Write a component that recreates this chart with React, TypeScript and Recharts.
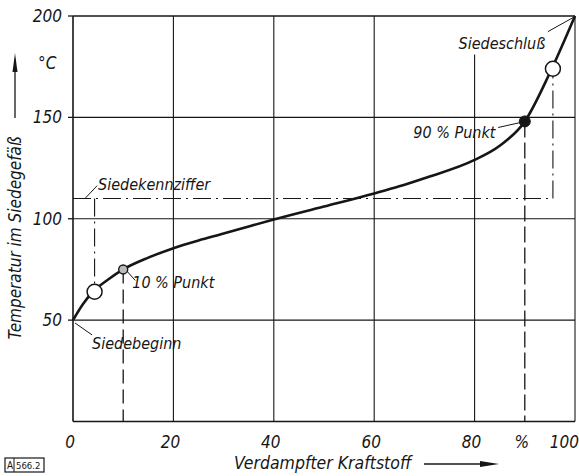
import React from 'react';
import {
  ComposedChart,
  Line,
  XAxis,
  YAxis,
  ReferenceLine,
  ReferenceDot
} from 'recharts';

// Siedekurve eines Vergaserkraftstoffs
const verdampft = [0, 2, 4, 7, 10, 15, 20, 25, 30, 35, 40, 50, 60, 65, 70, 80, 85, 90, 95, 100];
const temperatur = [50, 58, 64, 70, 75, 80.8, 85.5, 89.3, 92.7, 96.2, 99.6, 106, 112.5, 116, 120, 129, 136, 148, 172, 200];

const xTicks = [0, 20, 40, 60, 80, 90, 100];
const xTickLabels = ['0', '20', '40', '60', '80', '%', '100'];
const yTicks = [50, 100, 150, 200];
const gridX = [0, 20, 40, 60, 80, 100];
// oberes Ende der senkrechten Gitterlinien (bei 80 durch "Siedeschluß" unterbrochen)
const gridXTop = [200, 200, 200, 200, 181, 200];
const gridY = [0, 50, 100, 150, 200];

const siedekennziffer = 110;
const beginnKreis = { x: 4.3, y: 64 };
const punkt10 = { x: 10, y: 75 };
const punkt90 = { x: 90, y: 148 };
const schlussKreis = { x: 95.6, y: 174 };

const beschriftungen = [
  { text: 'Siedeschluß', x: 76.8, y: 183.5 },
  { text: '90 % Punkt', x: 67.8, y: 140 },
  { text: 'Siedekennziffer', x: 5, y: 114.3 },
  { text: '10 % Punkt', x: 11.8, y: 66 },
  { text: 'Siedebeginn', x: 3.8, y: 35.8 }
];

const hinweislinien = [
  [94.6, 192.3, 99.6, 199.2],
  [84.7, 145, 89, 147.4],
  [2.4, 110, 4.8, 116.3],
  [10.8, 74, 12.4, 69.6],
  [0.4, 48.6, 3.8, 42.7]
];

const data = verdampft.map((x, i) => ({ x, t: temperatur[i] }));

const FONT = '"DejaVu Sans Condensed", "DejaVu Sans", sans-serif';
const INK = '#161616';

const XTick = (props: any) => {
  const { x, y, payload, index } = props;
  const last = payload.value === 100;
  return (
    <text
      x={last ? x + 4 : x - 3}
      y={y}
      dy="0.71em"
      textAnchor={last ? 'end' : 'middle'}
      fontFamily={FONT}
      fontStyle="italic"
      fontSize={17}
      fill={INK}
    >
      {xTickLabels[index] ?? payload.value}
    </text>
  );
};

const Beschriftung = (text: string) => (p: any) => (
  <text
    x={p.cx}
    y={p.cy}
    fontFamily={FONT}
    fontStyle="italic"
    fontSize={16}
    fill={INK}
  >
    {text}
  </text>
);

export default function App() {
  return (
    <div style={{ position: 'absolute', left: 0, top: 0, width: 579, height: 476, background: '#fff' }}>
      <ComposedChart
        width={579}
        height={476}
        data={data}
        margin={{ top: 16, right: 4, left: 0, bottom: 0 }}
      >
        <XAxis
          dataKey="x"
          type="number"
          domain={[0, 100]}
          ticks={xTicks}
          interval={0}
          tick={<XTick />}
          tickLine={false}
          axisLine={false}
          tickSize={0}
          tickMargin={14}
          height={54.5}
        />
        <YAxis
          type="number"
          domain={[0, 200]}
          ticks={yTicks}
          interval={0}
          width={73}
          tickSize={5}
          tickMargin={6}
          axisLine={false}
          tickLine={{ stroke: INK, strokeWidth: 1.3 }}
          tick={{ fontFamily: FONT, fontStyle: 'italic', fontSize: 17, fill: INK }}
        />

        {gridX.map((g, i) => (
          <ReferenceLine
            key={'gx' + g}
            segment={[{ x: g, y: 0 }, { x: g, y: gridXTop[i] }]}
            stroke={INK}
            strokeWidth={g === 0 ? 1.6 : 1.1}
          />
        ))}
        {gridY.map((g) => (
          <ReferenceLine key={'gy' + g} y={g} stroke={INK} strokeWidth={g === 0 || g === 200 ? 1.6 : 1.2} />
        ))}

        {/* Siedekennziffer, strichpunktiert */}
        <ReferenceLine
          segment={[{ x: 0, y: siedekennziffer }, { x: schlussKreis.x, y: siedekennziffer }]}
          stroke={INK}
          strokeWidth={1.1}
          strokeDasharray="18 5 2 5"
        />
        <ReferenceLine
          segment={[{ x: schlussKreis.x, y: siedekennziffer }, { x: schlussKreis.x, y: schlussKreis.y }]}
          stroke={INK}
          strokeWidth={1.1}
          strokeDasharray="18 5 2 5"
        />
        <ReferenceLine
          segment={[{ x: beginnKreis.x, y: siedekennziffer }, { x: beginnKreis.x, y: beginnKreis.y }]}
          stroke={INK}
          strokeWidth={1.1}
          strokeDasharray="18 5 2 5"
        />
        <ReferenceLine
          segment={[{ x: punkt10.x, y: punkt10.y }, { x: punkt10.x, y: 0 }]}
          stroke={INK}
          strokeWidth={1.3}
          strokeDasharray="14 6"
        />
        <ReferenceLine
          segment={[{ x: punkt90.x, y: punkt90.y }, { x: punkt90.x, y: 0 }]}
          stroke={INK}
          strokeWidth={1.3}
          strokeDasharray="16 5"
        />

        {hinweislinien.map((h, i) => (
          <ReferenceLine
            key={'h' + i}
            segment={[{ x: h[0], y: h[1] }, { x: h[2], y: h[3] }]}
            stroke={INK}
            strokeWidth={1}
          />
        ))}

        <Line
          dataKey="t"
          type="monotone"
          stroke={INK}
          strokeWidth={2.6}
          dot={false}
          activeDot={false}
          isAnimationActive={false}
        />

        <ReferenceDot x={beginnKreis.x} y={beginnKreis.y} r={7.5} fill="#fff" stroke={INK} strokeWidth={1.5} />
        <ReferenceDot x={schlussKreis.x} y={schlussKreis.y} r={7.5} fill="#fff" stroke={INK} strokeWidth={1.5} />
        <ReferenceDot x={punkt10.x} y={punkt10.y} r={4.5} fill="#bbb" stroke={INK} strokeWidth={1.4} />
        <ReferenceDot x={punkt90.x} y={punkt90.y} r={5.5} fill={INK} stroke={INK} strokeWidth={1} />

        {beschriftungen.map((b) => (
          <ReferenceDot key={b.text} x={b.x} y={b.y} r={0} shape={Beschriftung(b.text)} />
        ))}
      </ComposedChart>

      <svg
        width={579}
        height={476}
        style={{ position: 'absolute', left: 0, top: 0, pointerEvents: 'none' }}
      >
        <text x={38} y={69} fontFamily={FONT} fontStyle="italic" fontSize={17} fill={INK}>°C</text>
        <text
          transform="translate(21,238) rotate(-90)"
          textAnchor="middle"
          fontFamily={FONT}
          fontStyle="italic"
          fontSize={17}
          fill={INK}
        >
          Temperatur im Siedegefäß
        </text>
        <line x1={15} y1={118} x2={15} y2={70} stroke={INK} strokeWidth={1.3} />
        <polygon points="15,53 12.5,72 17.5,72" fill={INK} />

        <text x={234} y={469} fontFamily={FONT} fontStyle="italic" fontSize={17.5} fill={INK}>
          Verdampfter Kraftstoff
        </text>
        <line x1={424} y1={464} x2={484} y2={464} stroke={INK} strokeWidth={1.3} />
        <polygon points="499,464 480,461 480,467" fill={INK} />

        <rect x={5} y={458} width={39} height={14} fill="none" stroke={INK} strokeWidth={1.2} />
        <line x1={14} y1={458} x2={14} y2={472} stroke={INK} strokeWidth={1} />
        <text x={7} y={469} fontFamily={FONT} fontSize={10} fill={INK}>A</text>
        <text x={16} y={469} fontFamily={FONT} fontSize={9.5} fill={INK}>566.2</text>
      </svg>
    </div>
  );
}
